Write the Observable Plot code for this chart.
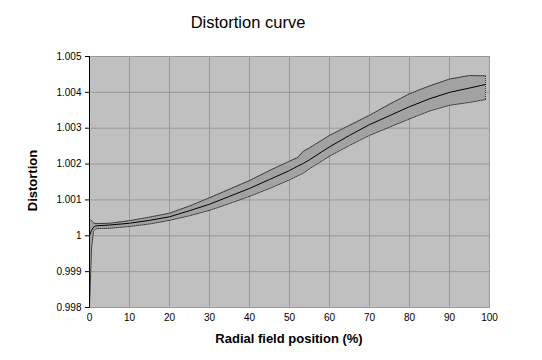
<!DOCTYPE html>
<html>
<head>
<meta charset="utf-8">
<script src="https://cdn.jsdelivr.net/npm/d3@7"></script>
<script src="https://cdn.jsdelivr.net/npm/@observablehq/plot@0.6"></script>
<style>
  html, body { margin: 0; padding: 0; background: #fff; }
  #wrap { position: relative; width: 542px; height: 360px; font-family: "Liberation Sans", Arial, sans-serif; }
  #wrap svg { position: absolute; left: 0; top: 0; }
  .lbl { position: absolute; line-height: 1; white-space: nowrap; color: #000; }
</style>
</head>
<body>
<div id="wrap"></div>
<script>
// Radial field position (%)
const xPos = [0, 0.5, 1, 1.5, 2, 5, 10, 15, 20, 25, 30, 35, 40, 45, 50, 52, 53.5, 55, 60, 65, 70, 75, 80, 85, 90, 95, 99];
// Mean distortion
const distMid = [1.0000, 1.00015, 1.00024, 1.00027, 1.00028, 1.00030, 1.00035, 1.00043, 1.00053, 1.00070, 1.00088, 1.00110, 1.00132, 1.00157, 1.00182, 1.00194, 1.00202, 1.00212, 1.00248, 1.00280, 1.00310, 1.00335, 1.00360, 1.00382, 1.00400, 1.00412, 1.00422];
// Upper envelope
const distHi = [1.00048, 1.00042, 1.00036, 1.00034, 1.00034, 1.00035, 1.00042, 1.00052, 1.00063, 1.00083, 1.00106, 1.00130, 1.00154, 1.00182, 1.00208, 1.00218, 1.00236, 1.00245, 1.00280, 1.00308, 1.00336, 1.00367, 1.00396, 1.00418, 1.00437, 1.00447, 1.00446];
// Lower envelope
const distLo = [0.9980, 0.99965, 1.00012, 1.00019, 1.00020, 1.00021, 1.00026, 1.00033, 1.00043, 1.00056, 1.00071, 1.00090, 1.00110, 1.00132, 1.00156, 1.00167, 1.00175, 1.00187, 1.00222, 1.00252, 1.00280, 1.00303, 1.00326, 1.00348, 1.00364, 1.00372, 1.00380];
// Tick labels
const xTicks = [0, 10, 20, 30, 40, 50, 60, 70, 80, 90, 100];
const yTicks = [0.998, 0.999, 1.000, 1.001, 1.002, 1.003, 1.004, 1.005];
const titleText = "Distortion curve";
const xTitle = "Radial field position (%)";
const yTitle = "Distortion";

const rows = xPos.map((x, i) => ({x, mid: distMid[i], hi: distHi[i], lo: distLo[i]}));
const last = rows[rows.length - 1];

const chart = Plot.plot({
  width: 542,
  height: 360,
  marginLeft: 89,
  marginRight: 53,
  marginTop: 56,
  marginBottom: 53,
  style: {fontFamily: "'Liberation Sans', Arial, sans-serif", fontSize: "10px", background: "transparent", color: "#000"},
  x: {domain: [0, 100], label: null},
  y: {domain: [0.998, 1.005], label: null},
  marks: [
    Plot.frame({fill: "#c0c0c0"}),
    Plot.gridX(xTicks, {stroke: "#999", strokeOpacity: 1}),
    Plot.gridY(yTicks, {stroke: "#999", strokeOpacity: 1}),
    Plot.frame({stroke: "#999"}),
    Plot.areaY(rows, {x: "x", y1: "lo", y2: "hi", fill: "#a2a2a2", curve: "linear"}),
    Plot.line(rows, {x: "x", y: "hi", stroke: "#333", strokeDasharray: "1,1", strokeWidth: 1}),
    Plot.line(rows, {x: "x", y: "lo", stroke: "#333", strokeDasharray: "1,1", strokeWidth: 1}),
    Plot.ruleX([last], {x: "x", y1: "lo", y2: "hi", stroke: "#333", strokeDasharray: "1,1"}),
    Plot.line(rows, {x: "x", y: "mid", stroke: "#000", strokeWidth: 1}),
    Plot.ruleX([0], {stroke: "#000"}),
    Plot.axisY(yTicks, {tickSize: 4, tickPadding: 4, tickFormat: d => String(+d.toFixed(3)), label: null, stroke: "#000"}),
    Plot.axisX(xTicks, {tickSize: 0, tickPadding: 6, label: null})
  ]
});

const wrap = document.getElementById("wrap");
wrap.appendChild(chart);

function addLabel(text, css) {
  const d = document.createElement("div");
  d.className = "lbl";
  d.textContent = text;
  Object.assign(d.style, css);
  wrap.appendChild(d);
  return d;
}
addLabel(titleText, {left: "0px", width: "496px", textAlign: "center", top: "14px", fontSize: "16.5px"});
addLabel(xTitle, {left: "89px", width: "400px", textAlign: "center", top: "332px", fontSize: "13px", fontWeight: "bold"});
addLabel(yTitle, {left: "-18px", width: "100px", textAlign: "center", top: "174px", fontSize: "13px", fontWeight: "bold", transform: "rotate(-90deg)", transformOrigin: "50% 50%"});
</script>
</body>
</html>
